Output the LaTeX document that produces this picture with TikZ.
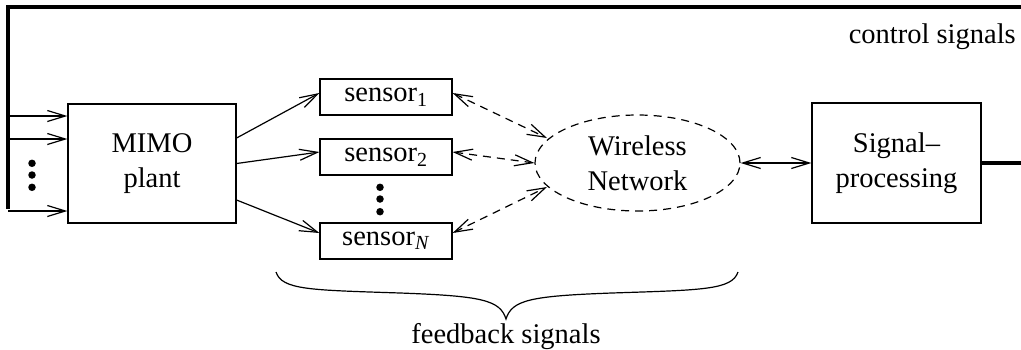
\documentclass[tikz,border=0pt]{standalone}
\usepackage{fontspec}
\setmainfont{Liberation Serif}
\usetikzlibrary{arrows.meta,calc,shapes.geometric}
\begin{document}
\begin{tikzpicture}[x=1pt,y=-1pt,
  font=\fontsize{28.5}{35}\selectfont,
  thin line/.style={line width=1.2pt},
  barb/.style={-{Straight Barb[length=18pt,width=11pt,line width=1.2pt]}},
  dbarb/.style={{Straight Barb[length=18pt,width=11pt,line width=1.2pt]}-{Straight Barb[length=18pt,width=11pt,line width=1.2pt]}},
  dashline/.style={dash pattern=on 8pt off 6pt},
  block/.style={draw,thin line,inner sep=0pt,align=center},
  thickline/.style={line width=4.5pt},
  dotmark/.style={circle,fill=black,inner sep=0pt,minimum size=7.5pt}]
\useasboundingbox (0,0) rectangle (1021,349);

% blocks
\node[block,minimum width=168pt,minimum height=119pt] (plant) at (152,163.5) {MIMO\\plant};
\node[block,minimum width=132pt,minimum height=36pt] (s1) at (386,97) {sensor\textsubscript{1}};
\node[block,minimum width=132pt,minimum height=36pt] (s2) at (386,157) {sensor\textsubscript{2}};
\node[block,minimum width=132pt,minimum height=36pt] (sN) at (386,241) {sensor\textsubscript{\textit{N}}};
\node[ellipse,draw,thin line,dashline,inner sep=0pt,minimum width=205pt,minimum height=96pt,align=center] (wn) at (637.5,163) {Wireless\\Network};
\node[block,minimum width=169pt,minimum height=120pt] (sp) at (896.5,163) {Signal–\\processing};

% labels
\node[anchor=base east,inner sep=0pt] (ctl) at (1016,43) {control signals};
\node[anchor=base,inner sep=0pt] (fb) at (506,343) {feedback signals};

% dots
\node[dotmark] (d1) at (32,163.3) {};
\node[dotmark] (d2) at (32,175) {};
\node[dotmark] (d3) at (32,187.3) {};
\node[dotmark] (e1) at (380,187.3) {};
\node[dotmark] (e2) at (380,199) {};
\node[dotmark] (e3) at (380,211.7) {};

% feedback loop
\coordinate (tr) at (1021,7);
\coordinate (tl) at (8,7);
\coordinate (bl) at (8,211);
\coordinate (re) at (1021,163);
\draw[thickline] (sp.east) -- (re);
\draw[thickline,line join=miter] (tr) -- (tl) -- ([yshift=2pt]bl);

% inputs
\coordinate (i1) at (8,116);
\coordinate (i2) at (8,139);
\draw[thin line,barb] (i1) -- (i1 -| plant.west);
\draw[thin line,barb] (i2) -- (i2 -| plant.west);
\draw[thin line,barb] (bl) -- (bl -| plant.west);

% plant outputs
\draw[thin line,barb] ($(plant.east)+(0,-25.5)$) -- ($(s1.west)+(0,-4)$);
\draw[thin line,barb] (plant.east) -- ($(s2.west)+(0,-5)$);
\draw[thin line,barb] ($(plant.east)+(0,36.5)$) -- ($(sN.west)+(0,-8)$);

% wireless links
\draw[thin line,dashline,dbarb] ($(s1.east)+(0,-4)$) -- ($(wn.center)+(-90.5,-25)$);
\draw[thin line,dashline,dbarb] ($(s2.east)+(0,-5)$) -- (wn.west);
\draw[thin line,dashline,dbarb] ($(sN.east)+(0,-8)$) -- ($(wn.center)+(-90.5,24)$);
\draw[thin line,dbarb] (wn.east) -- (sp.west);

% brace
\draw[thin line] (276,272) .. controls (282,290) and (310,290) .. (400,293)
  .. controls (482,296) and (500,300) .. (506,319)
  .. controls (512,300) and (530,296) .. (612,293)
  .. controls (702,290) and (732,290) .. (738,272);
\end{tikzpicture}
\end{document}
